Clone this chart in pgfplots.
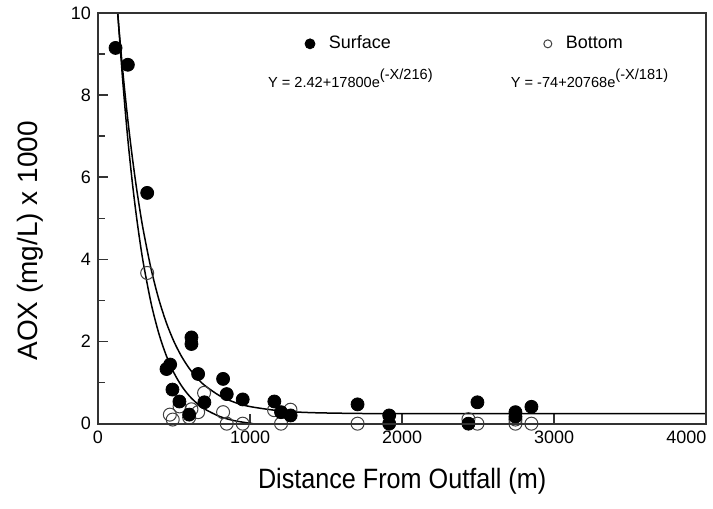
\documentclass[border=0pt]{standalone}
\usepackage{fontspec}
\setmainfont{Liberation Sans}
\usepackage{graphicx}
\usepackage{pgfplots}
\pgfplotsset{compat=1.18}
\pgfplotsset{
  surfleg/.style={legend image code/.code={\draw[##1, mark size=2.5pt] plot coordinates {(0pt,0pt)};}},
  botleg/.style={legend image code/.code={\draw[##1, mark size=2pt] plot coordinates {(0pt,0pt)};}},
}
\begin{document}
\begin{tikzpicture}
\begin{axis}[
  scale only axis, width=304.5pt, height=205.5pt,
  xmin=0, xmax=4000, ymin=0, ymax=10,
  clip=false,
  xtick={0,1000,2000,3000,4000},
  xticklabels={0,1000,2000,3000,\llap{4000}},
  ytick={0,2,4,6,8,10},
  minor ytick={1,3,5,7,9},
  tick pos=left,
  tick align=inside,
  major tick length=5pt, minor tick length=3.5pt,
  axis line style={draw=black!80, line width=1pt},
  tick style={draw=black!80, line width=0.8pt},
  tick label style={font=\fontsize{9}{10}\selectfont},
  /pgf/number format/assume math mode=true,
  scaled x ticks=false,
  xlabel={\scalebox{0.9}[1]{Distance From Outfall (m)}},
  ylabel={AOX (mg/L) x 1000},
  label style={font=\fontsize{14}{16}\selectfont},
  xlabel style={at={(axis description cs:0.5,-0.141)}, anchor=center},
  ylabel style={at={(axis description cs:-0.111,0.445)}, anchor=center},
  legend columns=2,
  reverse legend,
  legend cell align=left,
  legend style={draw=none, fill=none, at={(axis cs:1359,9.25)}, anchor=west,
    inner sep=0pt, font=\fontsize{9}{10}\selectfont, nodes={inner sep=0pt},
    /tikz/every odd column/.append style={column sep=7pt},
    /tikz/every even column/.append style={column sep=76.5pt}},
]
% invisible frame giving the picture its proportions
\path[draw=none] (axis description cs:-0.1609,-0.2068) rectangle (axis description cs:1.0099,1.017);
\coordinate (fsw) at (rel axis cs:0,0);
\coordinate (fne) at (rel axis cs:1,1);

% fitted curves
\addplot[black, line width=0.75pt, smooth, forget plot] coordinates {
(130,9.993) (140,9.552) (160,8.729) (180,7.978) (200,7.294) (225,6.524)
(250,5.837) (275,5.226) (300,4.681) (350,3.763) (400,3.035) (450,2.458)
(500,2.000) (550,1.637) (600,1.349) (650,1.120) (700,0.938) (800,0.680)
(900,0.518) (1000,0.416) (1200,0.311) (1400,0.269) (1700,0.249)
(2000,0.244) (3000,0.242) (4000,0.242)};
\addplot[black, line width=0.75pt, smooth, forget plot] coordinates {
(131,9.996) (140,9.508) (160,8.505) (180,7.608) (200,6.804) (225,5.918)
(250,5.145) (275,4.472) (300,3.884) (350,2.929) (400,2.204) (450,1.654)
(500,1.237) (550,0.920) (600,0.680) (650,0.499) (700,0.360) (800,0.176)
(900,0.070) (1020,0.0)};

% Bottom (open)
\addplot[only marks, mark=o, mark size=3.25pt, mark options={black!75, line width=0.5pt}, botleg]
coordinates {
(324,3.67) (473,0.22) (492,0.10) (537,0.42) (600,0.15) (615,0.35)
(659,0.28) (698,0.75) (823,0.28) (847,0.0) (952,0.0) (1158,0.33)
(1204,0.0) (1266,0.34) (1707,0.0) (2436,0.11) (2495,0.0) (2745,0.10)
(2745,0.0) (2850,0.0)};

% Surface (filled)
\addplot[only marks, mark=*, mark size=3.25pt, mark options={black, fill=black}, surfleg]
coordinates {
(116,9.15) (197,8.74) (324,5.62) (451,1.33) (475,1.44) (490,0.83)
(536,0.54) (600,0.22) (615,2.10) (615,1.94) (659,1.21) (700,0.52)
(823,1.09) (847,0.72) (952,0.59) (1160,0.54) (1204,0.28) (1267,0.20)
(1707,0.47) (1915,0.20) (1915,0.0) (2436,0.0) (2495,0.52) (2745,0.28)
(2745,0.17) (2850,0.41)};

\legend{Bottom, Surface}

\node[anchor=base west, inner sep=0pt, font=\fontsize{7.3}{8}\selectfont]
  at (axis cs:1116,8.18) {Y = 2.42+17800e\raisebox{3.9pt}{(-X/216)}};
\node[anchor=base west, inner sep=0pt, font=\fontsize{7.3}{8}\selectfont]
  at (axis cs:2712,8.18) {Y = -74+20768e\raisebox{3.9pt}{(-X/181)}};
\end{axis}
\draw[black!80, line width=1pt] (fsw) rectangle (fne);
\end{tikzpicture}
\end{document}
